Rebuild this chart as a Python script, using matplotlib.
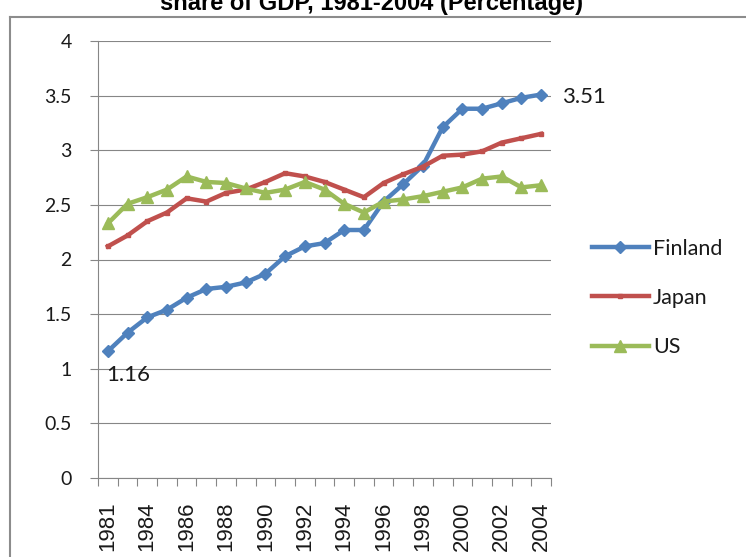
import matplotlib
matplotlib.use('Agg')
import matplotlib.pyplot as plt
from matplotlib.lines import Line2D
from matplotlib.ticker import FixedLocator, NullFormatter

# Data
years = ['1981', '1983', '1984', '1985', '1986', '1987', '1988', '1989', '1990',
         '1991', '1992', '1993', '1994', '1995', '1996', '1997', '1998', '1999',
         '2000', '2001', '2002', '2003', '2004']
finland = [1.16, 1.33, 1.47, 1.54, 1.65, 1.73, 1.75, 1.79, 1.87, 2.03, 2.12, 2.15,
           2.27, 2.27, 2.53, 2.69, 2.86, 3.21, 3.38, 3.38, 3.43, 3.48, 3.51]
japan = [2.12, 2.22, 2.35, 2.43, 2.56, 2.53, 2.61, 2.64, 2.71, 2.79, 2.76, 2.71,
         2.64, 2.57, 2.70, 2.78, 2.85, 2.95, 2.96, 2.99, 3.07, 3.11, 3.15]
us = [2.33, 2.51, 2.57, 2.64, 2.76, 2.71, 2.70, 2.65, 2.61, 2.64, 2.71, 2.64,
      2.51, 2.43, 2.53, 2.55, 2.58, 2.62, 2.66, 2.74, 2.76, 2.66, 2.68]
yticks = [0, 0.5, 1, 1.5, 2, 2.5, 3, 3.5, 4]
ytick_labels = ['0', '0.5', '1', '1.5', '2', '2.5', '3', '3.5', '4']

W, H = 746, 557
fig = plt.figure(figsize=(W / 100, H / 100), dpi=100)
ax = fig.add_axes([98 / W, 1 - 478 / H, (551 - 98) / W, (478 - 41) / H])

grid_col = '#868686'
txt_col = '#1a1a1a'
x = list(range(len(years)))

ax.plot(x, finland, color='#4F81BD', lw=3.2, marker='D', ms=6, label='Finland')
ax.plot(x, japan, color='#C0504D', lw=3.2, marker='s', ms=3.5, label='Japan')
ax.plot(x, us, color='#9BBB59', lw=3.2, marker='^', ms=8, label='US')

ax.set_xlim(-0.5, len(years) - 0.5)
ax.set_ylim(0, 4)

# y axis
ax.set_yticks(yticks)
ax.set_yticklabels(ytick_labels, family='Lato', fontsize=14, color=txt_col)
ax.tick_params(axis='y', length=6, width=0.8, color=grid_col, pad=13)
ax.yaxis.grid(True, color=grid_col, lw=0.8)
ax.set_axisbelow(True)

# x axis: labels on every other category, ticks between categories
ax.set_xticks(x[::2])
ax.set_xticklabels(years[::2], rotation=90, family='Liberation Sans',
                   fontsize=16, color=txt_col)
ax.tick_params(axis='x', which='major', length=0, pad=17)
ax.xaxis.set_minor_locator(FixedLocator([i - 0.5 for i in range(len(years) + 1)]))
ax.xaxis.set_minor_formatter(NullFormatter())
ax.tick_params(axis='x', which='minor', length=6, width=0.8, color=grid_col)

for s in ['top', 'right']:
    ax.spines[s].set_visible(False)
for s in ['left', 'bottom']:
    ax.spines[s].set_color(grid_col)
    ax.spines[s].set_linewidth(0.8)

# data labels
ax.annotate('1.16', (0, finland[0]), xytext=(-1.5, -17), textcoords='offset points',
            ha='left', va='center', family='Lato', fontsize=16, color=txt_col)
ax.annotate('3.51', (len(years) - 1, finland[-1]), xytext=(15, -2),
            textcoords='offset points', ha='left', va='center', family='Lato',
            fontsize=16, color=txt_col, annotation_clip=False)

leg = ax.legend(loc='center left', bbox_to_anchor=(592 / W, 1 - 298 / H),
                bbox_transform=fig.transFigure, frameon=False, borderpad=0,
                borderaxespad=0, handlelength=2.64, handletextpad=0.2,
                labelspacing=1.35, prop={'family': 'Lato', 'size': 15.5})
for t in leg.get_texts():
    t.set_color(txt_col)

# chart frame (cropped at right and bottom) and clipped title
fig.add_artist(Line2D([10 / W, 10 / W], [0, 1 - 17 / H], color='#8c8c8c', lw=1.5,
                      transform=fig.transFigure))
fig.add_artist(Line2D([10 / W, 1], [1 - 17 / H, 1 - 17 / H], color='#8c8c8c', lw=1.5,
                      transform=fig.transFigure))
fig.text(372 / W, 1 - 10 / H, 'share of GDP, 1981-2004 (Percentage)', ha='center',
         va='baseline', family='Liberation Sans', fontweight='bold', fontsize=17)

fig.savefig('out.png', dpi=100)
